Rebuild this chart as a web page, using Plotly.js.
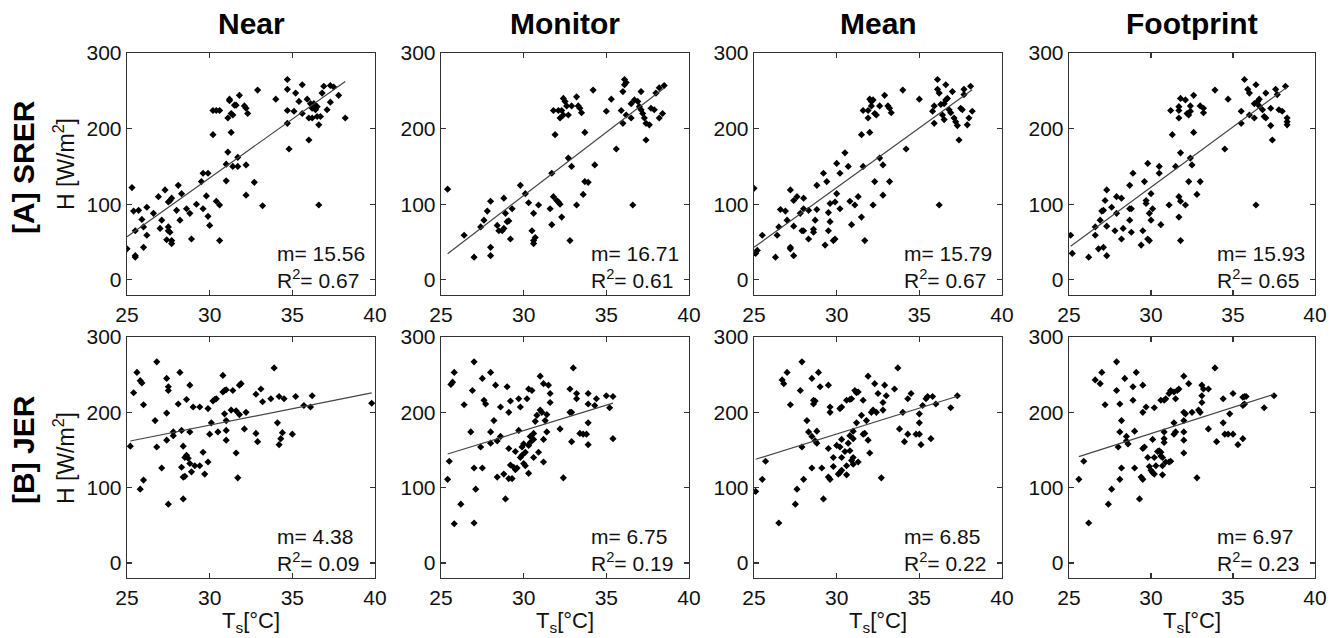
<!DOCTYPE html>
<html>
<head>
<meta charset="utf-8">
<script src="https://cdn.plot.ly/plotly-3.0.1.min.js"></script>
<style>html,body{margin:0;padding:0;background:#fff;}#chart{width:1335px;height:638px;}</style>
</head>
<body>
<div id="chart"></div>
<script>
// ---- DATA: [Ts (°C), H (W/m2)] pairs ----
const srerNear = [[25.0,41],[25.3,122],[25.5,65],[25.5,32],[25.5,30],[25.4,91],[25.7,92],[25.9,80],[26.0,70],[26.0,43],
[26.2,59],[26.2,96],[26.6,88],[26.9,110],[27.0,68],[27.1,79],[27.3,119],[27.4,53],[27.5,70],[27.5,65],
[27.6,63],[27.5,103],[27.6,105],[27.7,108],[27.7,52],[27.7,48],[28.0,92],[28.1,125],[28.2,79],[28.3,114],
[28.6,94],[28.8,88],[28.9,54],[29.2,100],[29.5,130],[29.6,141],[29.9,141],[29.6,94],[29.8,111],[29.9,84],
[30.0,72],[30.4,104],[30.6,99],[30.6,52],[30.2,192],[30.2,224],[30.4,224],[30.6,224],[31.0,131],[31.0,153],
[31.1,169],[31.1,214],[31.2,239],[31.2,237],[31.3,220],[31.4,218],[31.3,195],[31.4,150],[31.5,231],[31.6,231],
[31.7,162],[31.7,150],[31.8,244],[32.1,230],[32.2,227],[32.3,220],[32.2,152],[32.2,112],[32.7,129],[32.9,251],
[33.2,98],[34.0,239],[34.7,224],[34.7,207],[34.7,265],[34.7,252],[34.8,173],[35.1,223],[35.2,247],[35.4,236],
[35.6,220],[35.6,258],[35.9,239],[36.0,214],[36.0,185],[36.1,233],[36.2,227],[36.2,214],[36.3,233],[36.4,225],
[36.5,229],[36.5,216],[36.6,205],[36.6,99],[36.7,216],[36.8,247],[36.9,256],[37.1,225],[37.3,257],[37.3,235],
[37.5,255],[37.8,244],[38.2,214]];

const srerMonitor = [[25.4,120],[26.4,59],[27.0,30],[27.4,70],[27.6,79],[27.8,91],[28.0,104],[28.0,43],[28.0,32],[28.4,72],
[28.5,65],[28.7,65],[28.8,68],[28.8,108],[28.9,88],[29.0,77],[29.1,78],[29.2,54],[29.3,94],[29.8,125],
[30.1,114],[30.3,102],[30.5,65],[30.6,88],[30.6,52],[30.7,56],[30.6,48],[30.9,99],[31.6,94],[31.7,141],
[31.7,73],[31.8,110],[31.9,192],[31.8,224],[32.1,224],[32.3,224],[32.0,105],[32.1,103],[32.2,100],[32.2,214],
[32.3,83],[32.4,240],[32.5,236],[32.4,218],[32.6,230],[32.7,218],[32.7,161],[32.8,52],[32.9,230],[33.2,242],
[32.9,150],[33.2,99],[33.3,230],[33.4,227],[33.5,221],[33.6,113],[33.7,130],[33.9,129],[33.7,195],[34.2,251],
[34.3,152],[35.0,223],[35.3,239],[35.6,173],[35.9,224],[36.0,249],[36.1,258],[36.1,265],[36.2,261],[36.0,207],
[36.2,218],[36.5,214],[36.6,99],[36.5,233],[36.7,238],[36.9,236],[37.0,229],[37.1,249],[37.1,225],[37.2,220],
[37.3,214],[37.4,207],[37.4,185],[37.6,205],[37.7,227],[37.9,225],[38.0,247],[38.2,214],[38.2,254],[38.4,220],
[38.5,257]];

const srerMean = [[25.0,121],[25.1,35],[25.2,39],[25.5,59],[26.3,30],[26.4,59],[26.5,70],[26.6,93],[26.9,91],[27.0,79],
[27.2,43],[27.2,41],[27.2,119],[27.4,71],[27.4,32],[27.4,105],[27.6,110],[27.8,88],[27.9,65],[28.0,65],
[28.0,108],[28.0,94],[28.3,92],[28.3,54],[28.6,67],[28.6,63],[28.8,125],[28.8,93],[28.7,79],[29.2,141],
[29.3,46],[29.4,130],[29.5,89],[29.5,65],[29.6,77],[29.6,101],[29.8,52],[29.9,54],[29.9,103],[30.0,114],
[30.0,154],[30.2,141],[30.2,94],[30.5,168],[30.7,150],[30.8,104],[30.9,73],[31.1,99],[31.3,110],[31.5,192],
[31.5,83],[31.6,150],[31.7,52],[31.6,224],[31.9,224],[31.9,214],[32.0,195],[32.0,239],[32.1,236],[32.1,230],
[32.2,99],[32.2,238],[32.3,220],[32.4,218],[32.3,130],[32.6,230],[32.6,161],[32.8,152],[32.8,112],[32.9,244],
[33.1,230],[33.2,130],[33.2,227],[33.3,221],[34.0,251],[34.2,173],[35.0,239],[35.8,223],[35.9,207],[35.9,230],
[36.1,265],[36.1,252],[36.2,247],[36.2,99],[36.3,232],[36.5,233],[36.4,218],[36.5,212],[36.6,258],[36.6,238],
[36.7,240],[36.8,225],[36.9,221],[37.0,249],[37.1,214],[37.2,209],[37.3,204],[37.4,185],[37.5,227],[37.6,225],
[37.7,252],[37.7,245],[37.9,205],[38.0,214],[38.1,256],[38.2,223]];

const srerFootprint = [[25.1,59],[25.2,35],[26.2,30],[26.6,70],[26.6,59],[26.8,41],[27.1,43],[26.9,79],[27.0,91],[27.1,92],
[27.2,105],[27.3,119],[27.3,32],[27.3,71],[27.6,96],[27.8,65],[27.9,88],[27.9,110],[28.2,108],[28.2,54],
[28.3,68],[28.7,79],[28.7,94],[28.8,94],[28.7,125],[28.9,141],[28.8,63],[29.4,46],[29.5,65],[29.6,130],
[29.7,101],[29.7,105],[29.8,54],[29.9,52],[29.8,154],[29.9,88],[30.0,79],[30.0,114],[30.1,94],[30.5,141],
[30.5,150],[30.6,73],[31.1,99],[31.3,192],[31.2,224],[31.5,150],[31.7,214],[31.7,229],[31.7,224],[31.8,168],
[31.8,240],[31.7,110],[31.8,104],[31.7,83],[31.8,52],[32.1,99],[32.1,238],[32.2,220],[32.3,218],[32.4,223],
[32.3,130],[32.4,161],[32.4,230],[32.5,152],[32.6,195],[32.6,244],[32.8,113],[33.0,130],[33.0,230],[33.2,227],
[33.2,221],[33.9,251],[34.5,173],[34.7,239],[35.5,223],[35.5,207],[35.7,265],[35.9,252],[36.0,247],[36.0,218],
[36.3,233],[36.3,214],[36.4,99],[36.4,258],[36.5,236],[36.6,239],[36.6,230],[36.8,225],[36.9,216],[37.0,247],
[37.0,214],[37.3,227],[37.3,204],[37.4,185],[37.6,252],[37.7,245],[37.8,225],[38.0,223],[38.2,256],[38.3,214],
[38.3,209],[38.3,205]];

const jerNear = [[25.2,155],[25.4,226],[25.6,253],[25.8,242],[25.9,239],[26.0,210],[25.8,98],[26.0,110],[26.7,189],[26.8,267],
[26.8,154],[27.1,126],[27.4,163],[27.4,199],[27.4,245],[27.5,234],[27.5,229],[27.5,78],[27.8,169],[27.8,174],
[28.1,211],[28.2,253],[28.3,176],[28.4,155],[28.4,85],[28.3,127],[28.4,114],[28.5,115],[28.5,140],[28.6,143],
[28.6,217],[28.7,139],[28.8,174],[28.8,236],[28.8,132],[28.9,121],[29.0,207],[29.1,129],[29.4,129],[29.4,207],
[29.6,147],[29.7,118],[29.9,134],[29.9,205],[30.0,171],[30.1,186],[30.2,215],[30.3,217],[30.4,218],[30.5,174],
[30.8,249],[30.8,227],[30.9,229],[31.0,230],[30.9,198],[31.0,189],[31.0,176],[31.0,163],[31.3,203],[31.4,229],
[31.6,202],[31.6,146],[31.7,113],[31.8,236],[31.9,238],[31.8,197],[32.1,178],[32.2,200],[32.8,224],[32.8,172],
[32.9,161],[33.1,231],[33.2,214],[33.7,218],[33.9,259],[34.1,186],[34.2,221],[34.2,157],[34.3,165],[34.4,173],
[34.5,218],[35.0,171],[35.2,221],[35.7,209],[36.1,207],[36.2,222],[39.8,212]];

const jerMonitor = [[25.4,111],[25.5,135],[25.6,237],[25.7,240],[25.8,253],[25.8,52],[26.2,78],[26.4,210],[26.8,174],[26.9,229],
[27.0,267],[27.0,126],[27.0,53],[27.1,98],[27.4,154],[27.5,245],[27.5,126],[27.6,216],[27.7,211],[28.0,174],
[28.0,253],[28.0,159],[28.2,189],[28.3,236],[28.4,162],[28.4,114],[28.6,207],[28.6,168],[28.8,118],[28.9,85],
[29.0,234],[29.1,200],[29.1,152],[29.1,112],[29.3,112],[29.2,215],[29.2,130],[29.4,127],[29.5,148],[29.5,124],
[29.6,126],[29.7,218],[29.7,176],[29.8,207],[29.8,140],[29.9,143],[29.9,154],[30.0,158],[30.0,132],[30.1,129],
[30.1,147],[30.2,218],[30.3,119],[30.3,231],[30.3,156],[30.4,160],[30.4,168],[30.5,229],[30.6,172],[30.6,140],
[30.6,164],[30.7,188],[30.8,196],[30.9,147],[31.0,248],[31.0,203],[31.1,200],[31.2,134],[31.2,238],[31.2,164],
[31.3,189],[31.4,174],[31.4,197],[31.5,236],[31.6,213],[31.6,225],[32.2,178],[32.4,113],[32.8,231],[32.8,200],
[32.9,200],[32.9,161],[33.0,259],[33.2,225],[33.2,218],[33.4,172],[33.6,171],[33.8,171],[33.9,186],[33.9,225],
[33.9,157],[33.9,211],[34.4,218],[34.3,209],[35.0,222],[35.2,206],[35.4,221],[35.4,165]];

const jerMean = [[25.1,95],[25.5,111],[25.7,135],[26.5,53],[26.7,243],[26.8,238],[27.0,253],[27.2,210],[27.5,78],[27.6,98],
[27.8,229],[27.9,267],[27.9,154],[28.0,111],[28.2,189],[28.3,174],[28.5,168],[28.5,126],[28.5,245],[28.6,211],
[28.6,216],[28.7,215],[28.7,162],[28.8,159],[28.8,175],[28.9,253],[29.0,234],[29.1,126],[29.2,85],[29.5,236],
[29.5,152],[29.5,114],[29.6,111],[29.6,207],[29.6,200],[29.8,140],[29.8,128],[30.0,156],[30.1,118],[30.2,120],
[30.3,123],[30.2,205],[30.3,207],[30.2,154],[30.3,164],[30.3,140],[30.5,148],[30.6,216],[30.6,117],[30.6,129],
[30.7,159],[30.8,169],[30.8,217],[30.9,218],[30.8,149],[30.9,136],[31.0,131],[31.0,140],[31.0,175],[31.0,165],
[31.1,229],[31.2,226],[31.3,227],[31.2,186],[31.3,134],[31.5,196],[31.6,216],[31.6,171],[31.7,172],[31.8,189],
[31.9,163],[32.0,146],[31.9,248],[32.1,200],[32.2,203],[32.3,238],[32.4,200],[32.5,225],[32.7,113],[32.8,213],
[32.8,203],[32.9,236],[33.0,222],[33.5,231],[33.7,259],[33.8,178],[34.0,200],[34.1,161],[34.3,218],[34.3,171],
[34.5,225],[34.8,171],[35.0,171],[35.0,186],[35.0,198],[35.1,157],[35.2,209],[35.4,218],[35.5,221],[35.7,165],
[35.8,221],[36.0,211],[36.9,206],[37.3,222]];

const jerFootprint = [[25.6,111],[25.9,135],[26.2,53],[26.6,243],[26.9,238],[27.0,253],[27.2,210],[27.4,78],[27.6,98],[27.9,267],
[27.9,229],[28.0,154],[28.1,111],[28.1,174],[28.1,211],[28.2,189],[28.2,126],[28.4,245],[28.5,168],[28.5,162],
[28.6,158],[28.9,216],[28.9,234],[29.0,175],[29.0,126],[29.1,253],[29.3,85],[29.4,114],[29.5,111],[29.5,152],
[29.6,154],[29.5,236],[29.5,200],[29.7,207],[29.8,140],[29.9,128],[30.0,123],[30.1,120],[30.2,118],[30.1,164],
[30.2,140],[30.2,206],[30.3,129],[30.4,148],[30.5,149],[30.6,147],[30.6,142],[30.7,140],[30.6,216],[30.8,216],
[30.9,218],[30.7,129],[30.7,117],[30.8,160],[30.8,165],[30.8,174],[30.9,134],[31.1,134],[31.2,135],[31.1,225],
[31.2,229],[31.4,227],[31.4,186],[31.4,171],[31.5,174],[31.5,218],[31.6,229],[31.7,231],[32.0,248],[32.0,200],
[32.1,198],[32.0,189],[32.0,174],[32.0,163],[32.0,146],[32.3,238],[32.5,200],[32.8,113],[32.9,203],[33.0,200],
[33.1,236],[33.2,231],[33.1,213],[33.1,222],[33.5,231],[33.5,178],[33.9,259],[34.0,161],[34.4,218],[34.4,186],
[34.5,171],[34.7,171],[35.0,171],[34.8,198],[35.0,225],[35.3,157],[35.6,165],[35.6,209],[35.6,220],[35.7,221],
[35.8,221],[35.7,211],[36.9,206],[37.5,222]];

const columnTitles = ["Near", "Monitor", "Mean", "Footprint"];
const rowLabels = ["[A] SRER", "[B] JER"];
const slopes = [15.56, 16.71, 15.79, 15.93, 4.38, 6.75, 6.85, 6.97];
const rSquared = [0.67, 0.61, 0.67, 0.65, 0.09, 0.19, 0.22, 0.23];
const fitAt25 = [57, 28, 43, 43, 161, 142, 137, 137];   // fitted H at Ts = 25
const xTicks = [25, 30, 35, 40];
const yTicks = [0, 100, 200, 300];

// ---- LAYOUT ----
const W = 1335, H = 638;
const colL = [127, 441, 754, 1069], colR = [375, 689, 1002, 1315];
const rowT = [53, 337], rowB = [295, 578];
const FONT = "Liberation Sans, Arial, Helvetica, sans-serif";
const panels = [srerNear, srerMonitor, srerMean, srerFootprint, jerNear, jerMonitor, jerMean, jerFootprint];

const px = v => v / W;
const py = v => 1 - v / H;

const traces = [];
const layout = {
  width: W, height: H,
  margin: {l: 0, r: 0, t: 0, b: 0},
  paper_bgcolor: "#fff", plot_bgcolor: "#fff",
  showlegend: false,
  font: {family: FONT, color: "#111"},
  annotations: []
};

panels.forEach((data, i) => {
  const r = Math.floor(i / 4), c = i % 4;
  const sfx = i === 0 ? "" : String(i + 1);
  const xs = data.map(p => p[0]), ys = data.map(p => p[1]);
  traces.push({
    type: "scatter", mode: "markers", x: xs, y: ys,
    xaxis: "x" + sfx, yaxis: "y" + sfx,
    marker: {symbol: "diamond", size: 5.5, color: "#000"},
    hoverinfo: "x+y"
  });
  const x0 = Math.min(...xs), x1 = Math.max(...xs);
  traces.push({
    type: "scatter", mode: "lines",
    x: [x0, x1],
    y: [fitAt25[i] + slopes[i] * (x0 - 25), fitAt25[i] + slopes[i] * (x1 - 25)],
    xaxis: "x" + sfx, yaxis: "y" + sfx,
    line: {color: "#444", width: 1.2},
    hoverinfo: "skip"
  });
  const axCommon = {
    showline: true, mirror: "ticks", linecolor: "#333", linewidth: 1.3,
    ticks: "inside", ticklen: 5, tickwidth: 1.2, tickcolor: "#333",
    showgrid: false, zeroline: false, fixedrange: true,
    tickfont: {family: FONT, size: 21, color: "#111"}
  };
  layout["xaxis" + sfx] = Object.assign({}, axCommon, {
    domain: [px(colL[c]), px(colR[c])],
    range: [25, 40], tickmode: "array", tickvals: xTicks,
    anchor: "y" + sfx
  });
  layout["yaxis" + sfx] = Object.assign({}, axCommon, {
    domain: [py(rowB[r]), py(rowT[r])],
    range: [-20, 300], tickmode: "array", tickvals: yTicks,
    anchor: "x" + sfx
  });
  // m and R2 labels: one two-line, left-aligned text block
  layout.annotations.push({
    xref: "paper", yref: "paper", x: px(colR[c] - 100), y: py(rowB[r] - 28),
    xanchor: "left", yanchor: "middle", align: "left", showarrow: false,
    text: "m= " + slopes[i].toFixed(2) + "<br>R<sup>2</sup>= " + rSquared[i].toFixed(2),
    font: {family: FONT, size: 21, color: "#111"}
  });
});

// column titles and bottom x-axis titles
columnTitles.forEach((t, c) => {
  layout.annotations.push({
    xref: "paper", yref: "paper", x: px((colL[c] + colR[c]) / 2), y: py(24),
    xanchor: "center", yanchor: "middle", showarrow: false,
    text: "<b>" + t + "</b>", font: {family: FONT, size: 30, color: "#000"}
  });
  layout.annotations.push({
    xref: "paper", yref: "paper", x: px((colL[c] + colR[c]) / 2), y: py(622),
    xanchor: "center", yanchor: "middle", showarrow: false,
    text: "T<sub>s</sub>[°C]", font: {family: FONT, size: 22, color: "#111"}
  });
});

// row labels
const rowLabelY = [167, 450], hLabelY = [164, 458];
rowLabels.forEach((t, r) => {
  layout.annotations.push({
    xref: "paper", yref: "paper", x: px(23), y: py(rowLabelY[r]),
    xanchor: "center", yanchor: "middle", showarrow: false, textangle: -90,
    text: "<b>" + t + "</b>", font: {family: FONT, size: 30, color: "#000"}
  });
  layout.annotations.push({
    xref: "paper", yref: "paper", x: px(64), y: py(hLabelY[r]),
    xanchor: "center", yanchor: "middle", showarrow: false, textangle: -90,
    text: "H [W/m<sup>2</sup>]", font: {family: FONT, size: 23, color: "#111"}
  });
});

Plotly.newPlot("chart", traces, layout, {staticPlot: true, displayModeBar: false});
</script>
</body>
</html>
